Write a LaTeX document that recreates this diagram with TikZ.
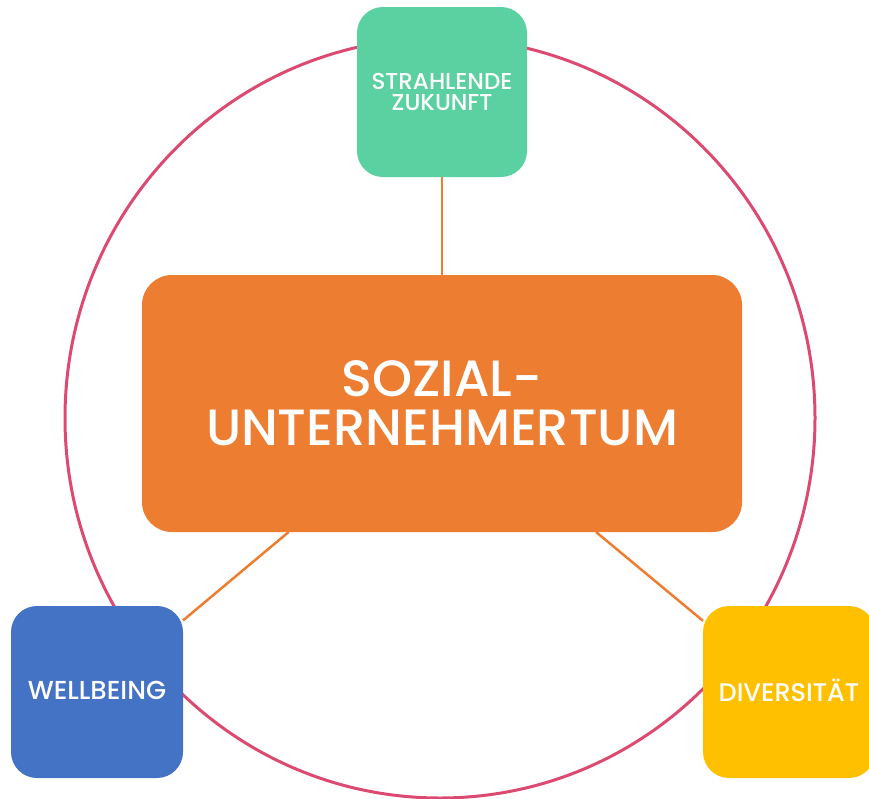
\documentclass[tikz,border=0pt]{standalone}
\usepackage{fontspec}
\setmainfont{Poppins Medium}
\usepackage{tikz}
\usetikzlibrary{positioning}

\definecolor{ringred}{RGB}{220,74,114}
\definecolor{coreorange}{RGB}{237,125,49}
\definecolor{futuregreen}{RGB}{91,208,160}
\definecolor{wellblue}{RGB}{68,114,196}
\definecolor{divyellow}{RGB}{255,192,0}

\begin{document}
\begin{tikzpicture}[
    x=1pt, y=-1pt,
    corner/.style={
        rounded corners=26pt,
        inner sep=0pt,
        outer sep=0pt,
        minimum width=172pt,
        minimum height=172pt,
        align=center,
        text=white
    },
    core/.style={
        rounded corners=30pt,
        inner sep=0pt,
        outer sep=0pt,
        minimum width=600pt,
        minimum height=257pt,
        align=center,
        text=white,
        fill=coreorange,
        font=\fontsize{51}{49}\selectfont
    },
    link/.style={draw=coreorange, line width=2.5pt}
]
\useasboundingbox (0,0) rectangle (869,798);
\clip (0,0) rectangle (869,798);

% outer ring
\draw[ringred, line width=3pt] (440,418) ellipse [x radius=375, y radius=380];

% boxes
\node[core] (core) at (442,403.5) {SOZIAL-\\UNTERNEHMERTUM};

\node[corner, fill=futuregreen, minimum width=170pt, minimum height=170pt,
      font=\fontsize{23}{21}\selectfont] (future) at (442,92)
    {STRAHLENDE\\ZUKUNFT};

\node[corner, fill=wellblue, font=\fontsize{26}{26}\selectfont] (well) at (97,692)
    {\raisebox{3pt}{WELLBEING}};

\node[corner, fill=divyellow, font=\fontsize{25.5}{26}\selectfont] (div) at (789,692)
    {\raisebox{3pt}{DIVERSITÄT}};

% links
\draw[link] (future) -- (core);
\draw[link] (core) -- (well);
\draw[link] (core) -- (div);

\end{tikzpicture}
\end{document}
